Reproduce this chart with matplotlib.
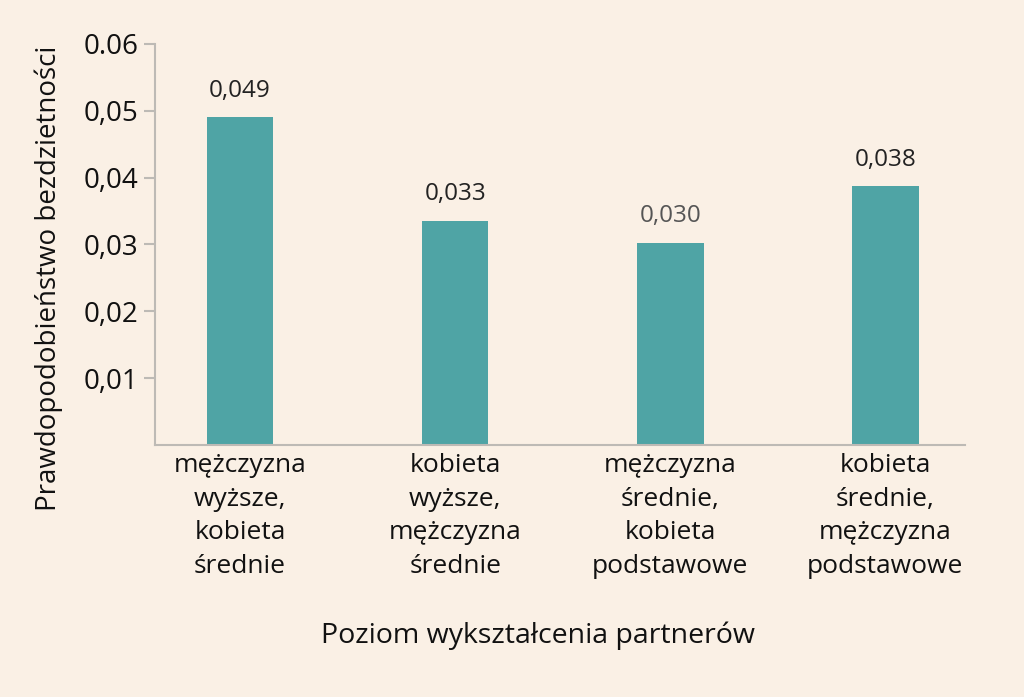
import matplotlib.pyplot as plt

categories = [
    "mężczyzna\nwyższe,\nkobieta\nśrednie",
    "kobieta\nwyższe,\nmężczyzna\nśrednie",
    "mężczyzna\nśrednie,\nkobieta\npodstawowe",
    "kobieta\nśrednie,\nmężczyzna\npodstawowe",
]
values = [0.049, 0.0335, 0.0302, 0.0387]
value_labels = ["0,049", "0,033", "0,030", "0,038"]
yticks = [0.01, 0.02, 0.03, 0.04, 0.05, 0.06]
ytick_labels = ["0,01", "0,02", "0,03", "0,04", "0,05", "0.06"]

bg = "#FAF0E5"
bar_color = "#4FA4A5"
spine_color = "#BDBAB5"

plt.rcParams['font.family'] = ['Open Sans', 'DejaVu Sans']

fig = plt.figure(figsize=(10.24, 6.97), dpi=100, facecolor=bg)
ax = fig.add_axes([0.1514, 0.3618, 0.791, 0.5751], facecolor=bg)

x = list(range(len(categories)))
ax.bar(x, values, width=0.31, color=bar_color)

label_colors = ["#222222", "#222222", "#555555", "#222222"]
for xi, v, lab, c in zip(x, values, value_labels, label_colors):
    ax.text(xi, v + 0.0022, lab, ha='center', va='bottom', fontsize=17.5, color=c)

ax.set_xlim(-0.395, 3.37)
ax.set_ylim(0, 0.06)
ax.set_yticks(yticks)
ax.set_yticklabels(ytick_labels, fontsize=20, color="#111111")
ax.set_xticks(x)
ax.set_xticklabels(categories, fontsize=19, color="#111111", linespacing=1.45)
ax.tick_params(axis='x', length=0, pad=6)
ax.tick_params(axis='y', length=8, width=1.5, color=spine_color, pad=4)

for side in ['top', 'right']:
    ax.spines[side].set_visible(False)
for side in ['left', 'bottom']:
    ax.spines[side].set_color(spine_color)
    ax.spines[side].set_linewidth(1.5)

ax.set_xlabel("Poziom wykształcenia partnerów", fontsize=20.5, color="#111111")
ax.xaxis.set_label_coords(0.473, -0.44)
ax.set_ylabel("Prawdopodobieństwo bezdzietności", fontsize=20, color="#111111")
ax.yaxis.set_label_coords(-0.114, 0.416)

fig.savefig("out.png", dpi=100, facecolor=bg)
